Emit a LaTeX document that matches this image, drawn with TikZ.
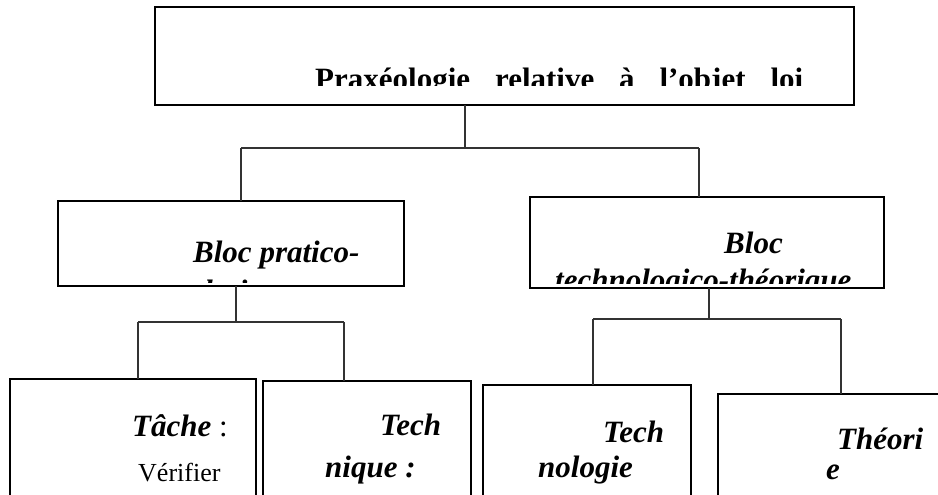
\documentclass[tikz,border=0pt]{standalone}
\usepackage{fontspec}
\setmainfont{Liberation Serif}
\begin{document}
\begin{tikzpicture}[x=1pt,y=-1pt,
  box/.style={draw=black, line width=2.4pt, inner sep=0pt, outer sep=0pt},
  conn/.style={draw=black!80, line width=1.1pt},
  ttl/.style={font=\fontsize{31}{36}\selectfont\bfseries, inner sep=0pt, anchor=base west},
  hd/.style={font=\fontsize{31}{36}\selectfont\bfseries\itshape, inner sep=0pt, anchor=base west},
  txt/.style={font=\fontsize{26}{30}\selectfont, inner sep=0pt, anchor=base west}]
\useasboundingbox (0,0) rectangle (938,495);
\clip (0,0) rectangle (938,495);

% boxes
\node[box, minimum width=699pt, minimum height=98pt] (top) at (504.5,56) {};
\node[box, minimum width=346pt, minimum height=85pt] (midL) at (231,243.5) {};
\node[box, minimum width=354pt, minimum height=91pt] (midR) at (707,242.5) {};
\node[box, minimum width=246pt, minimum height=141pt] (b1) at (133,449.5) {};
\node[box, minimum width=208pt, minimum height=139pt] (b2) at (367,450.5) {};
\node[box, minimum width=208pt, minimum height=135pt] (b3) at (587,452.5) {};
\node[box, minimum width=242pt, minimum height=126pt] (b4) at (839,457) {};

% texts (clipped like the original text boxes)
\begin{scope}
  \clip (155,7) rectangle (854,85.5);
  \node[ttl] (tt) at (315,89) {\hbox to 488pt{Praxéologie\hfill relative\hfill à\hfill l’objet\hfill loi}};
\end{scope}
\begin{scope}
  \clip (58,201) rectangle (404,282);
  \node[hd] (ml1) at (193,262) {Bloc pratico-};
  \node[hd] (ml2) at (168,301) {technique};
\end{scope}
\begin{scope}
  \clip (530,197) rectangle (884,283);
  \node[hd] (mr1) at (724,253) {Bloc};
  \node[hd] (mr2) at (555,290) {technologico-théorique};
\end{scope}
\node[hd] (b1a) at (132,436) {Tâche\textup{\mdseries\ :}};
\node[txt] (b1b) at (138,481) {Vérifier};
\node[hd] (b2a) at (380,435) {Tech};
\node[hd] (b2b) at (325,477) {nique :};
\node[hd] (b3a) at (603,442) {Tech};
\node[hd] (b3b) at (538,477) {nologie};
\node[hd] (b4a) at (837,449) {Théori};
\node[hd] (b4b) at (826,479) {e};

% connectors
\coordinate (j0) at (465,148);
\coordinate (jL) at (241,148);
\coordinate (jR) at (699,148);
\draw[conn] (top.south -| j0) -- (j0);
\draw[conn] (jL) -- (jR);
\draw[conn] (jL) -- (jL |- midL.north);
\draw[conn] (jR) -- (jR |- midR.north);

\coordinate (k0) at (236,322);
\coordinate (kL) at (138,322);
\coordinate (kR) at (344,322);
\draw[conn] (midL.south -| k0) -- (k0);
\draw[conn] (kL) -- (kR);
\draw[conn] (kL) -- (kL |- b1.north);
\draw[conn] (kR) -- (kR |- b2.north);

\coordinate (m0) at (709,319);
\coordinate (mL) at (593,319);
\coordinate (mR) at (841,319);
\draw[conn] (midR.south -| m0) -- (m0);
\draw[conn] (mL) -- (mR);
\draw[conn] (mL) -- (mL |- b3.north);
\draw[conn] (mR) -- (mR |- b4.north);
\end{tikzpicture}
\end{document}
